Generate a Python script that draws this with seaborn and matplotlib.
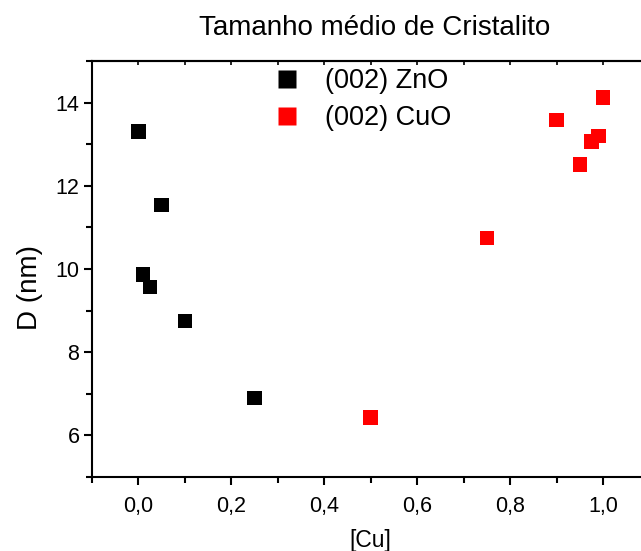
import matplotlib
matplotlib.use("Agg")
import matplotlib.pyplot as plt
import seaborn as sns
import pandas as pd
from matplotlib.ticker import MultipleLocator, FuncFormatter

# data
zno_x = [0.0, 0.01, 0.025, 0.05, 0.1, 0.25]
zno_y = [13.30, 9.87, 9.57, 11.54, 8.75, 6.90]
cuo_x = [0.5, 0.75, 0.9, 0.95, 0.975, 0.99, 1.0]
cuo_y = [6.43, 10.75, 13.58, 12.51, 13.06, 13.20, 14.12]
series_names = ["(002) ZnO", "(002) CuO"]
series_colors = ["#000000", "#ff0000"]

df = pd.DataFrame({
    "x": zno_x + cuo_x,
    "y": zno_y + cuo_y,
    "s": [series_names[0]] * len(zno_x) + [series_names[1]] * len(cuo_x),
})

sns.set_style("white")
plt.rcParams['font.family'] = ['Liberation Sans', 'DejaVu Sans']
plt.rcParams['text.color'] = 'black'
plt.rcParams['axes.labelcolor'] = 'black'
plt.rcParams['xtick.color'] = 'black'
plt.rcParams['ytick.color'] = 'black'

fig = plt.figure(figsize=(6.41, 5.51), dpi=100)
W, H = 641, 551
AW, AH = (649.5 - 92), (477 - 61)
ax = fig.add_axes([92 / W, (H - 477) / H, AW / W, AH / H])

sns.scatterplot(data=df, x="x", y="y", hue="s", palette=series_colors,
                marker="s", s=110, edgecolor="none", ax=ax)

ax.set_xlim(-0.1, 1.1)
ax.set_ylim(5, 15)
ax.xaxis.set_major_locator(MultipleLocator(0.2))
ax.xaxis.set_minor_locator(MultipleLocator(0.1))
ax.yaxis.set_major_locator(MultipleLocator(2))
ax.yaxis.set_minor_locator(MultipleLocator(1))
fmt = FuncFormatter(lambda v, p: f"{v:.1f}".replace(".", ",").replace("-0,0", "0,0"))
ax.xaxis.set_major_formatter(fmt)
ax.yaxis.set_major_formatter(FuncFormatter(lambda v, p: f"{v:.0f}"))

for sp in ax.spines.values():
    sp.set_linewidth(1.5)
    sp.set_color("black")

ax.tick_params(which="both", direction="out", bottom=True, left=True,
               top=False, right=False, width=1.5, colors="black", labelsize=15.5)
ax.tick_params(which="major", length=6)
ax.tick_params(which="minor", length=4)
ax.tick_params(axis="x", pad=8)
ax.tick_params(axis="y", pad=3)

sec = ax.secondary_xaxis("top")
sec.xaxis.set_major_locator(MultipleLocator(0.1))
sec.tick_params(direction="in", length=3, width=1.2, labeltop=False, colors="black")
sec.spines["top"].set_linewidth(1.5)

ax.set_xlabel("[Cu]", fontsize=16.5, color="black")
ax.xaxis.set_label_coords((370 - 92) / AW, -(529 - 477) / AH)
ax.set_ylabel("D (nm)", fontsize=20, color="black")
ax.yaxis.set_label_coords(-(92 - 43) / AW, (477 - 288) / AH)
fig.text(375 / W, 1 - 28 / H, "Tamanho médio de Cristalito", fontsize=20,
         ha="center", va="center", color="black")

leg = ax.legend(loc="upper left", bbox_to_anchor=(260 / W, 1 - 68 / H),
                bbox_transform=fig.transFigure, frameon=False, fontsize=19.5,
                handletextpad=0.4, labelspacing=0.42, markerscale=1.2,
                borderaxespad=0, borderpad=0)
for t in leg.get_texts():
    t.set_color("black")

fig.savefig("out.png", dpi=100)
